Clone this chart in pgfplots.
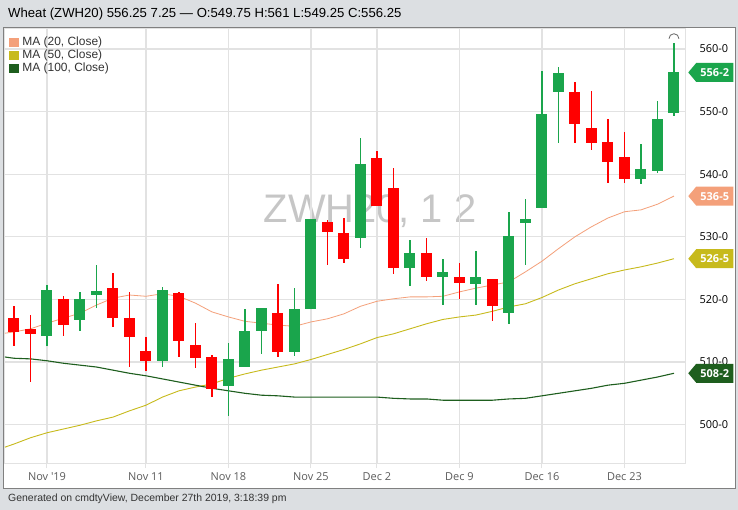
\documentclass[border=0pt]{standalone}
\usepackage{fontspec}
\setmainfont{Liberation Sans}
\newfontfamily\osans{Open Sans}
\usepackage{pgfplots}
\usepackage{pgfplotstable}
\pgfplotsset{compat=1.18}
\usetikzlibrary{shapes.symbols}

\definecolor{bgc}{HTML}{DCDFE2}
\definecolor{framec}{HTML}{808080}
\definecolor{gridc}{HTML}{E2E2E2}
\definecolor{cgreen}{HTML}{1AA54C}
\definecolor{cred}{HTML}{FF0000}
\definecolor{ma20}{HTML}{F4A07A}
\definecolor{ma50}{HTML}{C7BA1C}
\definecolor{ma100}{HTML}{1E5E1E}
\definecolor{wm}{HTML}{C6C6C6}
\definecolor{txt}{HTML}{333333}

% day index: 0 = Nov 1 2019, trading days only
\pgfplotstableread{
i  o      h     l      c
0  514.2  522.3 512.6  521.5
2  516.7  521.2 515.0  520.1
3  520.7  525.5 518.6  521.3
7  510.2  522.0 509.2  521.5
11 506.2  513.0 501.4  510.5
12 509.2  518.5 509.2  515.0
13 515.0  518.6 511.3  518.6
15 511.6  521.8 511.0  518.5
16 518.5  532.8 518.5  532.8
19 529.8  545.8 528.2  541.6
22 525.0  529.5 522.1  527.4
24 523.6  526.5 519.1  524.4
26 522.5  527.7 519.1  523.6
28 517.8  534.0 516.1  530.1
29 532.2  536.0 525.5  532.8
30 534.6  556.5 534.6  549.6
31 553.1  557.1 545.0  556.2
36 539.2  544.8 538.4  540.8
37 540.5  551.7 540.2  548.8
38 549.75 561.0 549.25 556.25
}\upcandles

\pgfplotstableread{
i  o      h     l      c
-2 517.0  518.9 512.6  514.8
-1 515.3  517.5 506.8  514.5
1  520.1  520.5 514.2  515.9
4  521.8  524.2 515.6  517.0
5  517.0  521.2 509.2  514.0
6  511.8  514.0 508.6  510.2
8  521.0  521.2 510.8  513.4
9  512.7  516.2 509.0  510.6
10 510.8  511.1 504.4  505.7
14 517.8  522.5 510.8  511.6
17 532.4  532.7 525.5  530.8
18 530.6  533.0 525.8  526.5
20 542.6  543.7 534.9  534.9
21 537.8  541.0 524.1  525.0
23 527.4  529.8 523.0  523.6
25 523.6  525.8 520.1  522.6
27 523.3  523.3 516.5  518.9
32 553.1  554.7 545.0  548.0
33 547.4  553.3 543.9  545.0
34 545.1  548.8 538.6  541.9
35 542.7  546.7 538.6  539.2
}\downcandles

\pgfplotstableread{
i     m20   m50   m100
-2.55 514.6 496.4 510.8
-2    514.8 496.9 510.6
-1    515.3 497.9 510.5
0     516.2 498.7 510.2
1     517.0 499.3 509.8
2     517.8 499.9 509.5
3     519.1 500.6 509.2
4     520.2 501.2 508.7
5     520.7 502.2 508.2
6     520.5 503.1 507.8
7     520.9 504.4 507.3
8     520.5 505.4 506.8
9     519.4 506.0 506.3
10    518.0 506.5 505.8
11    517.2 507.4 505.4
12    516.5 508.1 505.0
13    516.2 508.7 504.7
14    515.9 509.2 504.6
15    515.7 509.7 504.4
16    516.4 510.4 504.4
17    516.9 511.2 504.4
18    517.7 512.0 504.4
19    518.9 512.9 504.4
20    519.7 513.9 504.4
21    520.1 514.5 504.2
22    520.4 515.3 504.1
23    520.4 516.1 504.1
24    520.5 516.8 503.9
25    521.2 517.2 503.9
26    521.8 517.5 503.9
27    522.3 518.1 503.9
28    522.8 518.8 504.1
29    524.4 519.3 504.2
30    526.1 520.3 504.6
31    528.1 521.5 505.0
32    530.0 522.5 505.4
33    531.6 523.3 505.8
34    533.0 524.1 506.3
35    534.0 524.7 506.6
36    534.3 525.2 507.1
37    535.2 525.8 507.6
38    536.5 526.5 508.2
}\mavg

\begin{document}
\begin{tikzpicture}
\useasboundingbox (0,0) rectangle (738bp,510bp);
\fill[bgc] (0,0) rectangle (738bp,510bp);
\filldraw[fill=white, draw=framec, line width=1bp] (3.5bp,21bp) rectangle (735bp,482bp);
\node[inner sep=0pt, anchor=west, font=\fontsize{13.2}{15}\selectfont] at (8bp,496bp)
  {Wheat (ZWH20) 556.25 7.25 — O:549.75 H:561 L:549.25 C:556.25};
\node[inner sep=0pt, anchor=west, text=txt, font=\fontsize{10.5}{12}\selectfont] at (8bp,11bp)
  {Generated on cmdtyView, December 27th 2019, 3:18:39 pm};
\node[text=wm, inner sep=0pt, font=\fontsize{40}{40}\selectfont] at (370bp,299bp) {ZWH20, 1 2};

\begin{axis}[
  at={(5bp,47bp)}, anchor=south west,
  scale only axis, width=680bp, height=434bp,
  xmin=-2.545, xmax=38.67, ymin=493.87, ymax=563.19,
  axis line style={draw=gridc, line width=1bp},
  grid=major, grid style={gridc, line width=1.3bp},
  xtick={0,6,11,16,20,25,30,35},
  xticklabels={Nov \textquotesingle19, Nov 11, Nov 18, Nov 25, Dec 2, Dec 9, Dec 16, Dec 23},
  xtick pos=bottom, tick align=outside, major tick length=5bp,
  xtick style={draw=gridc, line width=1bp},
  xticklabel style={font=\osans\fontsize{11}{13}\selectfont, text=txt!80, yshift=-1bp},
  ytick={500,510,520,530,540,550,560},
  yticklabels={500-0,510-0,520-0,530-0,540-0,550-0,560-0},
  yticklabel pos=right, ytick style={draw=none},
  yticklabel style={font=\osans\fontsize{11}{13}\selectfont, text=black, xshift=6bp},
  legend cell align=left,
  legend style={at={(0,1)}, anchor=north west, xshift=1bp, yshift=-5bp,
    draw=none, fill=none, font=\fontsize{12}{13}\selectfont, text=txt,
    nodes={inner sep=0.75bp, text height=9bp, text depth=2.5bp},
    row sep=0pt, column sep=2.5bp},
  legend image code/.code={\fill[#1,draw=none] (0bp,-4.5bp) rectangle (10bp,5bp);},
]
\addplot[color=ma20, line width=0.8bp] table[x=i, y=m20] {\mavg};
\addlegendentry{MA (20, Close)}
\addplot[color=ma50, line width=0.9bp] table[x=i, y=m50] {\mavg};
\addlegendentry{MA (50, Close)}
\addplot[color=ma100, line width=1.1bp] table[x=i, y=m100] {\mavg};
\addlegendentry{MA (100, Close)}

% wicks
\addplot[forget plot, draw=none, mark=none,
  error bars/.cd, y dir=both, y explicit, error mark=none,
  error bar style={line width=1.3bp, color=cgreen}]
  table[x=i, y expr={(\thisrow{h}+\thisrow{l})/2}, y error expr={(\thisrow{h}-\thisrow{l})/2}] {\upcandles};
\addplot[forget plot, draw=none, mark=none,
  error bars/.cd, y dir=both, y explicit, error mark=none,
  error bar style={line width=1.3bp, color=cred}]
  table[x=i, y expr={(\thisrow{h}+\thisrow{l})/2}, y error expr={(\thisrow{h}-\thisrow{l})/2}] {\downcandles};
% bodies
\addplot[forget plot, draw=none, mark=none,
  error bars/.cd, y dir=both, y explicit, error mark=none,
  error bar style={line width=11bp, color=cgreen}]
  table[x=i, y expr={(\thisrow{o}+\thisrow{c})/2}, y error expr={abs(\thisrow{c}-\thisrow{o})/2}] {\upcandles};
\addplot[forget plot, draw=none, mark=none,
  error bars/.cd, y dir=both, y explicit, error mark=none,
  error bar style={line width=11bp, color=cred}]
  table[x=i, y expr={(\thisrow{o}+\thisrow{c})/2}, y error expr={abs(\thisrow{c}-\thisrow{o})/2}] {\downcandles};

\coordinate (lasttop) at (axis cs:38,561);
\coordinate (tclose) at (axis cs:38.67,556.25);
\coordinate (tm20) at (axis cs:38.67,536.5);
\coordinate (tm50) at (axis cs:38.67,526.5);
\coordinate (tm100) at (axis cs:38.67,508.2);
\end{axis}

\draw[black!60, line width=0.8bp] ([xshift=-5bp,yshift=4bp]lasttop) arc[start angle=180, end angle=0, radius=5bp];
\tikzset{tag/.style={shape=signal, signal to=west, signal pointer angle=100,
  minimum height=19bp, minimum width=45bp, inner sep=0pt, anchor=west, fill=#1,
  text=white, font=\osans\bfseries\fontsize{11}{13}\selectfont}}
\node[tag=cgreen] at ([xshift=3bp]tclose) {556-2};
\node[tag=ma20] at ([xshift=3bp]tm20) {536-5};
\node[tag=ma50] at ([xshift=3bp]tm50) {526-5};
\node[tag=ma100] at ([xshift=3bp]tm100) {508-2};
\end{tikzpicture}
\end{document}
